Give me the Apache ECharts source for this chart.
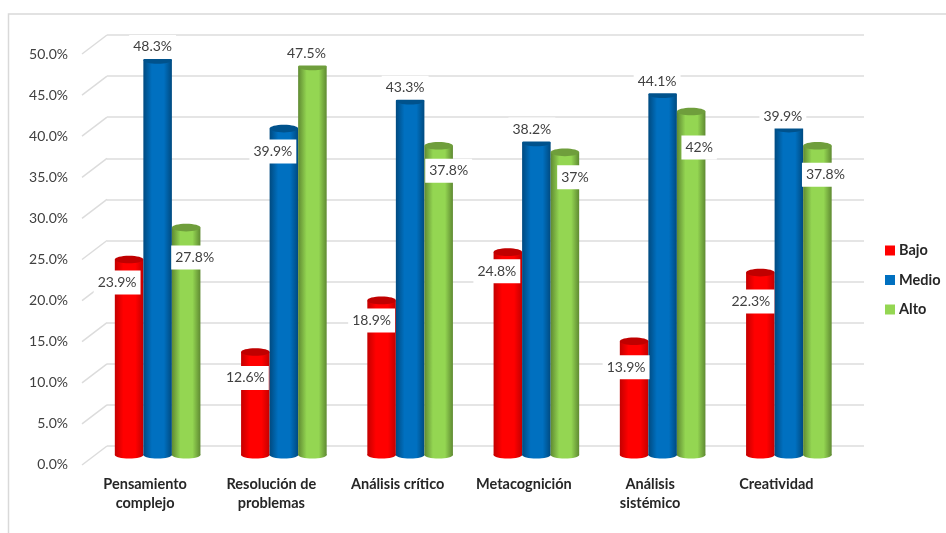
<!DOCTYPE html>
<html><head><meta charset="utf-8">
<style>html,body{margin:0;padding:0;background:#fff}#c{width:946px;height:533px}</style>
<script src="https://cdn.jsdelivr.net/npm/echarts@6/dist/echarts.min.js"></script>
</head><body><div id="c"></div>
<script>
const categories = ['Pensamiento\ncomplejo','Resolución de\nproblemas','Análisis crítico','Metacognición','Análisis\nsistémico','Creatividad'];
const bajo  = [23.9,12.6,18.9,24.8,13.9,22.3];
const medio = [48.3,39.9,43.3,38.2,44.1,39.9];
const alto  = [27.8,47.5,37.8,37,42,37.8];
const ticks = [0,5,10,15,20,25,30,35,40,45,50];
const seriesNames = ['Bajo','Medio','Alto'];

// manual label placement in the original chart, as pixel nudges from each bar's top centre
const labelNudge = {
  Bajo:  [[-12,23],[-10,26],[-10,20],[-11,19],[-8,26],[-9.5,29]],
  Medio: [[-5,-13],[-11,23],[-5,-13],[-4.5,-13],[-5.5,-13],[-6,-12]],
  Alto:  [[8.5,30],[-6,-13],[10,25],[10,25],[8,36],[8,29]]
};

const palette = {
  Bajo:  {mid:'#ff0000', edge:'#c40000', top:'#c00000'},
  Medio: {mid:'#0070c0', edge:'#004a80', top:'#00528c'},
  Alto:  {mid:'#94d652', edge:'#5f8a32', top:'#6f9e3c'}
};

const chart = echarts.init(document.getElementById('c'), null, {renderer:'canvas'});
const barRatio = 0.226;

function cylinder(name, idx){
  const c = palette[name];
  return function(params, api){
    const i = api.value(0), v = api.value(1);
    const band = api.size([1,0])[0];
    const w = band * barRatio;
    const base = api.coord([i,0]);
    const top = api.coord([i,v]);
    const cx = base[0] + idx * w;
    const fill = new echarts.graphic.LinearGradient(0,0,1,0,[
      {offset:0,color:c.edge},{offset:0.3,color:c.mid},{offset:0.72,color:c.mid},{offset:1,color:c.edge}]);
    return {type:'group', children:[
      {type:'ellipse', shape:{cx:cx,cy:base[1],rx:w/2,ry:3.5}, style:{fill:fill}},
      {type:'rect', shape:{x:cx-w/2,y:top[1],width:w,height:base[1]-top[1]}, style:{fill:fill}},
      {type:'ellipse', shape:{cx:cx,cy:top[1],rx:w/2,ry:3.8}, style:{fill:c.top}}
    ]};
  };
}

function labelLayer(name, idx, values){
  return {
    type:'custom', name:name+' labels', xAxisIndex:2, yAxisIndex:2, z:10, clip:false, silent:true,
    data: values.map((v,i)=>[i,v]),
    renderItem:function(params, api){
      const i = api.value(0), v = api.value(1);
      const w = api.size([1,0])[0]*barRatio;
      const p = api.coord([i,v]);
      const n = labelNudge[name][i];
      return {type:'text', style:{
        text: v+'%', x:p[0]+idx*w+n[0], y:p[1]+n[1], align:'center', verticalAlign:'middle',
        font:'14px Lato, "Open Sans", sans-serif', fill:'#404040',
        backgroundColor:'#fff', padding:[5,4,5,4]
      }};
    }
  };
}

const barSeries = seriesNames.map((name,k)=>({
  type:'custom', name:name, xAxisIndex:2, yAxisIndex:2, z:5, clip:false,
  itemStyle:{color:palette[name].mid},
  encode:{x:0,y:1},
  data:[bajo,medio,alto][k].map((v,i)=>[i,v]),
  renderItem:cylinder(name,k-1)
}));

const slopeSeries = {
  type:'custom', xAxisIndex:0, yAxisIndex:0, z:1, clip:false, silent:true,
  data: ticks.map(t=>[0,t]),
  renderItem:function(params, api){
    const p = api.coord([0,api.value(1)]);
    const x0 = p[0]-api.size([1,0])[0]/2;
    return {type:'line', shape:{x1:x0,y1:p[1],x2:x0-25,y2:p[1]+19},
      style:{stroke:'#dcdcdc',lineWidth:1.5}};
  }
};

chart.setOption({
  animation:false,
  backgroundColor:'#fff',
  graphic:[
    {type:'polyline', silent:true, z:0,
     shape:{points:[[8.5,533],[8.5,14],[946,14]]}, style:{stroke:'#d9d9d9',fill:null,lineWidth:1.5}}
  ],
  legend:{
    orient:'vertical', left:885, top:243, padding:0, itemWidth:10, itemHeight:10, itemGap:14.5, icon:'rect',
    data:seriesNames, selectedMode:false,
    textStyle:{fontFamily:'Lato, sans-serif', fontWeight:'bold', fontSize:14.5, color:'#262626', padding:[0,0,0,-1]}
  },
  grid:[
    {left:107, top:35, width:757, height:411},
    {left:82, top:54, width:757.5, height:410},
    {left:94.5, top:46, width:757.5, height:409}
  ],
  xAxis:[
    {gridIndex:0,type:'category',data:categories,show:false},
    {gridIndex:1,type:'category',data:categories,
      axisLine:{show:false},axisTick:{show:false},
      axisLabel:{interval:0,margin:10.5,lineHeight:19,color:'#262626',fontFamily:'Lato, sans-serif',fontWeight:'bold',fontSize:14.5}},
    {gridIndex:2,type:'category',data:categories,show:false}
  ],
  yAxis:[
    {gridIndex:0,type:'value',min:0,max:50,interval:5,
      axisLine:{show:false},axisTick:{show:false},axisLabel:{show:false},
      splitLine:{show:true,lineStyle:{color:'#dcdcdc',width:1.5}}},
    {gridIndex:1,type:'value',min:0,max:50,interval:5,
      axisLine:{show:false},axisTick:{show:false},splitLine:{show:false},
      axisLabel:{margin:14,color:'#404040',fontFamily:'Lato, sans-serif',fontSize:14,
        formatter:v=>ticks[ticks.indexOf(v)].toFixed(1)+'%'}},
    {gridIndex:2,type:'value',min:0,max:50,interval:5,show:false}
  ],
  series:[slopeSeries, ...barSeries,
    labelLayer('Bajo',-1,bajo), labelLayer('Medio',0,medio), labelLayer('Alto',1,alto)]
});
</script></body></html>
